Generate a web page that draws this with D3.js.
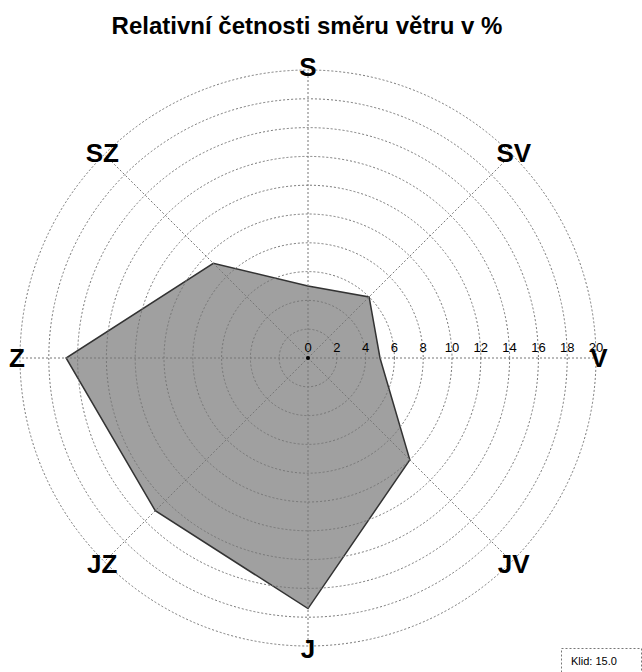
<!DOCTYPE html>
<html>
<head>
<meta charset="utf-8">
<script src="https://cdn.jsdelivr.net/npm/d3@7"></script>
<style>
  body { margin: 0; background: #fff; }
  text { font-family: "Liberation Sans", Arial, sans-serif; }
</style>
</head>
<body>
<div id="chart"></div>
<script>
// wind direction labels, clockwise from north
var directions = ["S", "SV", "V", "JV", "J", "JZ", "Z", "SZ"]
// relative frequency in %
var values = [5.0, 6.0, 5.0, 10.0, 17.4, 15.0, 16.8, 9.3]
var ticks = [0, 2, 4, 6, 8, 10, 12, 14, 16, 18, 20]
var calm = 15.0

var width = 642, height = 672
var cx = 308, cy = 358

var svg = d3.select("#chart")
    .append("svg")
    .attr("width", width)
    .attr("height", height)

var r = d3.scaleLinear().domain([0, 20]).range([0, 288])
var angle = d3.scaleLinear().domain([0, directions.length]).range([0, 2 * Math.PI])

var g = svg.append("g").attr("transform", "translate(" + cx + "," + cy + ")")

// title
svg.append("text")
    .attr("x", 307)
    .attr("y", 34)
    .attr("text-anchor", "middle")
    .style("font-size", "24px")
    .style("font-weight", "bold")
    .text("Relativní četnosti směru větru v %")

// polygon first so grid goes over it
var line = d3.lineRadial()
    .angle(function (d, i) { return angle(i) })
    .radius(function (d) { return r(d) })
    .curve(d3.curveLinearClosed)

g.append("path")
    .datum(values)
    .attr("d", line)
    .attr("fill", "#a0a0a0")
    .attr("stroke", "#333")
    .attr("stroke-width", 1.5)

// rings
g.selectAll(".ring")
    .data(ticks.slice(1))
    .enter()
    .append("circle")
    .attr("r", function (d) { return r(d) })
    .attr("fill", "none")
    .attr("stroke", "#777")
    .attr("stroke-width", 1)
    .attr("stroke-dasharray", "2,2")

// spokes
g.selectAll(".spoke")
    .data(directions)
    .enter()
    .append("line")
    .attr("x1", 0)
    .attr("y1", 0)
    .attr("x2", function (d, i) { return r(20) * Math.sin(angle(i)) })
    .attr("y2", function (d, i) { return -r(20) * Math.cos(angle(i)) })
    .attr("stroke", "#777")
    .attr("stroke-width", 1)
    .attr("stroke-dasharray", "2,2")

// tick labels along east axis
g.selectAll(".tick")
    .data(ticks)
    .enter()
    .append("text")
    .attr("x", function (d) { return r(d) })
    .attr("y", -6)
    .attr("text-anchor", "middle")
    .style("font-size", "13px")
    .text(function (d) { return d })

// direction labels
g.selectAll(".dir")
    .data(directions)
    .enter()
    .append("text")
    .attr("x", function (d, i) { return 291 * Math.sin(angle(i)) })
    .attr("y", function (d, i) { return -291 * Math.cos(angle(i)) })
    .attr("text-anchor", "middle")
    .attr("dy", "0.36em")
    .style("font-size", "26px")
    .style("font-weight", "bold")
    .text(function (d) { return d })

// center dot
g.append("circle").attr("r", 2).attr("fill", "#000")

// calm box
svg.append("rect")
    .attr("x", 561.5)
    .attr("y", 648.5)
    .attr("width", 80)
    .attr("height", 30)
    .attr("fill", "#fff")
    .attr("stroke", "#777")
    .attr("stroke-dasharray", "2,2")
svg.append("text")
    .attr("x", 571)
    .attr("y", 665)
    .style("font-size", "11px")
    .text("Klid: " + calm.toFixed(1))
</script>
</body>
</html>
